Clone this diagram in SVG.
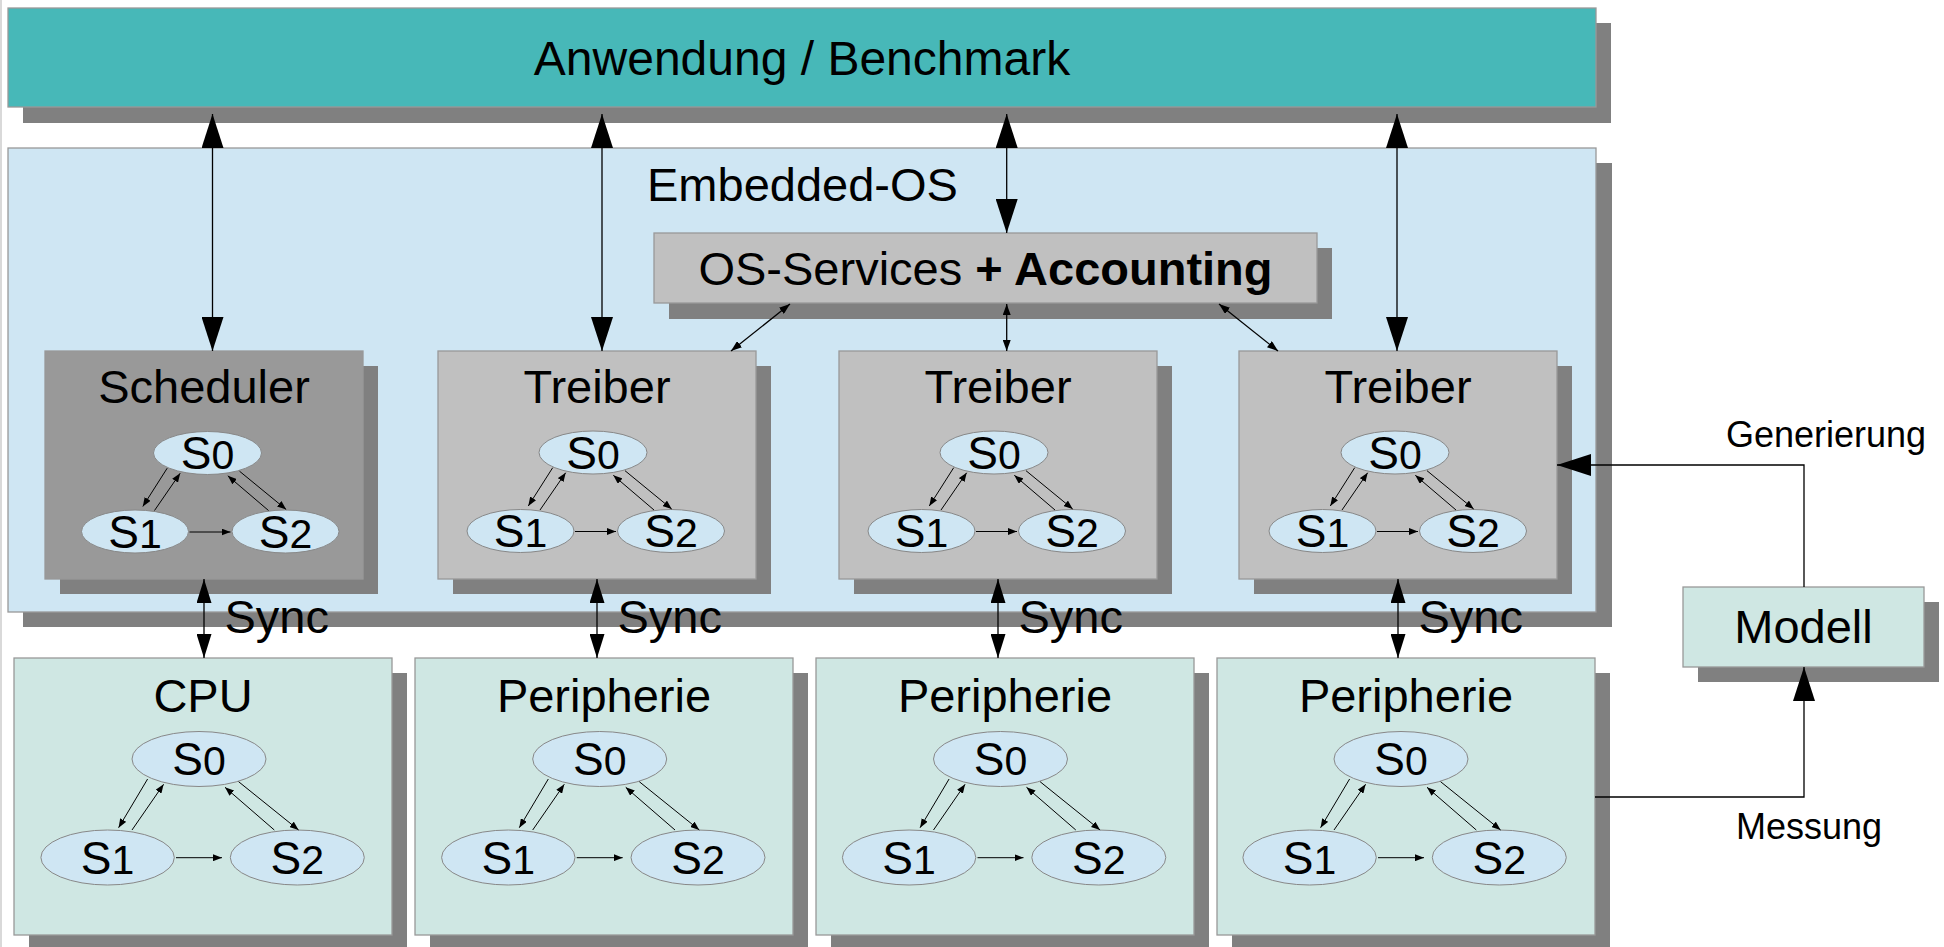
<svg xmlns="http://www.w3.org/2000/svg" width="1944" height="947" viewBox="0 0 1944 947">
<style>
text{font-family:"Liberation Sans",Arial,sans-serif;fill:#000}
.t47{font-size:47px;text-anchor:middle}
.lbl{font-size:36px}
.sh{fill:#808080}
.box{stroke:#999;stroke-width:1.3}
.teal{fill:#47b8b8}
.os{fill:#cfe6f3}
.sched{fill:#999999}
.drv{fill:#c0c0c0}
.hw{fill:#cfe7e3}
.st{fill:#cfe6f3;stroke:#888;stroke-width:1}
.s{font-size:46px;text-anchor:middle}
.d{font-size:41px}
.c{stroke:#000;stroke-width:1.3;fill:none}
.big{marker-start:url(#hb);marker-end:url(#hb)}
.sy{marker-start:url(#hs);marker-end:url(#hs)}
.osc{marker-start:url(#ho);marker-end:url(#ho)}
.m{stroke:#000;stroke-width:1;fill:none;marker-end:url(#hm)}
</style>
<defs>
<marker id="hb" markerUnits="userSpaceOnUse" markerWidth="34" markerHeight="22" refX="34" refY="11" orient="auto-start-reverse"><path d="M0,0 L34,11 L0,22 Z" fill="#000"/></marker>
<marker id="hs" markerUnits="userSpaceOnUse" markerWidth="24" markerHeight="15" refX="24" refY="7.5" orient="auto-start-reverse"><path d="M0,0 L24,7.5 L0,15 Z" fill="#000"/></marker>
<marker id="ho" markerUnits="userSpaceOnUse" markerWidth="11" markerHeight="8" refX="11" refY="4" orient="auto-start-reverse"><path d="M0,0 L11,4 L0,8 Z" fill="#000"/></marker>
<marker id="hm" markerUnits="userSpaceOnUse" markerWidth="9" markerHeight="7" refX="9" refY="3.5" orient="auto"><path d="M0,0 L9,3.5 L0,7 Z" fill="#000"/></marker>
</defs>
<rect x="0" y="0" width="1944" height="947" fill="#fff"/>
<rect x="0" y="0" width="2" height="947" fill="#d9d9d9"/>

<g id="anwendung">
<rect class="sh" x="23" y="23" width="1588" height="100"/>
<rect class="teal box" x="8" y="8" width="1588" height="99"/>
<text class="t47" x="802" y="75" style="font-size:48px">Anwendung / Benchmark</text>
</g>

<g id="embedded-os">
<rect class="sh" x="23" y="163" width="1589" height="464"/>
<rect class="os box" x="8" y="148" width="1588" height="464"/>
<text x="647" y="201" style="font-size:47px">Embedded-OS</text>
</g>

<g id="os-services">
<rect class="sh" x="669" y="248" width="663" height="71"/>
<rect class="drv box" x="654" y="233" width="663" height="70"/>
<text class="t47" x="985.5" y="285">OS-Services <tspan font-weight="bold">+ Accounting</tspan></text>
</g>

<g id="scheduler">
<rect class="sh" x="60" y="366" width="318" height="228"/>
<rect class="sched box" x="45" y="351" width="318" height="228"/>
<text class="t47" x="204" y="403">Scheduler</text>
<g transform="translate(207.5,453)">
<ellipse class="st" cx="0" cy="0" rx="54" ry="21.5"/>
<ellipse class="st" cx="-72.5" cy="78.5" rx="53.5" ry="21.5"/>
<ellipse class="st" cx="78" cy="78.5" rx="53.5" ry="21.5"/>
<text class="s" x="0" y="16">S<tspan class="d">0</tspan></text>
<text class="s" x="-72.5" y="94.5">S<tspan class="d">1</tspan></text>
<text class="s" x="78" y="94.5">S<tspan class="d">2</tspan></text>
<path class="m" d="M-40.3,15.2 L-64.7,53.5"/>
<path class="m" d="M-53,57.5 L-27.3,20.2"/>
<path class="m" d="M32,18.2 L78.7,56.5"/>
<path class="m" d="M61,57.5 L20.3,22.8"/>
<path class="m" d="M-18,79 L23,79"/>
</g>
</g>

<g id="treiber1">
<rect class="sh" x="453" y="366" width="318" height="228"/>
<rect class="drv box" x="438" y="351" width="318" height="228"/>
<text class="t47" x="597" y="403">Treiber</text>
<g transform="translate(593,452.5)">
<ellipse class="st" cx="0" cy="0" rx="54" ry="21.5"/>
<ellipse class="st" cx="-72.5" cy="78.5" rx="53.5" ry="21.5"/>
<ellipse class="st" cx="78" cy="78.5" rx="53.5" ry="21.5"/>
<text class="s" x="0" y="16">S<tspan class="d">0</tspan></text>
<text class="s" x="-72.5" y="94.5">S<tspan class="d">1</tspan></text>
<text class="s" x="78" y="94.5">S<tspan class="d">2</tspan></text>
<path class="m" d="M-40.3,15.2 L-64.7,53.5"/>
<path class="m" d="M-53,57.5 L-27.3,20.2"/>
<path class="m" d="M32,18.2 L78.7,56.5"/>
<path class="m" d="M61,57.5 L20.3,22.8"/>
<path class="m" d="M-18,79 L23,79"/>
</g>
</g>

<g id="treiber2">
<rect class="sh" x="854" y="366" width="318" height="228"/>
<rect class="drv box" x="839" y="351" width="318" height="228"/>
<text class="t47" x="998" y="403">Treiber</text>
<g transform="translate(994,452.5)">
<ellipse class="st" cx="0" cy="0" rx="54" ry="21.5"/>
<ellipse class="st" cx="-72.5" cy="78.5" rx="53.5" ry="21.5"/>
<ellipse class="st" cx="78" cy="78.5" rx="53.5" ry="21.5"/>
<text class="s" x="0" y="16">S<tspan class="d">0</tspan></text>
<text class="s" x="-72.5" y="94.5">S<tspan class="d">1</tspan></text>
<text class="s" x="78" y="94.5">S<tspan class="d">2</tspan></text>
<path class="m" d="M-40.3,15.2 L-64.7,53.5"/>
<path class="m" d="M-53,57.5 L-27.3,20.2"/>
<path class="m" d="M32,18.2 L78.7,56.5"/>
<path class="m" d="M61,57.5 L20.3,22.8"/>
<path class="m" d="M-18,79 L23,79"/>
</g>
</g>

<g id="treiber3">
<rect class="sh" x="1254" y="366" width="318" height="228"/>
<rect class="drv box" x="1239" y="351" width="318" height="228"/>
<text class="t47" x="1398" y="403">Treiber</text>
<g transform="translate(1395,452.5)">
<ellipse class="st" cx="0" cy="0" rx="54" ry="21.5"/>
<ellipse class="st" cx="-72.5" cy="78.5" rx="53.5" ry="21.5"/>
<ellipse class="st" cx="78" cy="78.5" rx="53.5" ry="21.5"/>
<text class="s" x="0" y="16">S<tspan class="d">0</tspan></text>
<text class="s" x="-72.5" y="94.5">S<tspan class="d">1</tspan></text>
<text class="s" x="78" y="94.5">S<tspan class="d">2</tspan></text>
<path class="m" d="M-40.3,15.2 L-64.7,53.5"/>
<path class="m" d="M-53,57.5 L-27.3,20.2"/>
<path class="m" d="M32,18.2 L78.7,56.5"/>
<path class="m" d="M61,57.5 L20.3,22.8"/>
<path class="m" d="M-18,79 L23,79"/>
</g>
</g>

<g id="cpu">
<rect class="sh" x="29" y="673" width="378" height="277"/>
<rect class="hw box" x="14" y="658" width="378" height="277"/>
<text class="t47" x="203" y="712">CPU</text>
<g transform="translate(199,759)">
<ellipse class="st" cx="0" cy="0" rx="67" ry="27.5"/>
<ellipse class="st" cx="-91.4" cy="98.5" rx="66.7" ry="27.5"/>
<ellipse class="st" cx="98.3" cy="98.5" rx="67" ry="27.5"/>
<text class="s" x="0" y="16">S<tspan class="d">0</tspan></text>
<text class="s" x="-91.4" y="114.5">S<tspan class="d">1</tspan></text>
<text class="s" x="98.3" y="114.5">S<tspan class="d">2</tspan></text>
<path class="m" d="M-51.4,20 L-80.4,68.7"/>
<path class="m" d="M-67,71 L-35.4,25.3"/>
<path class="m" d="M39.6,22.7 L99.6,71"/>
<path class="m" d="M75.3,71 L26,28.3"/>
<path class="m" d="M-23,98.7 L23,98.7"/>
</g>
</g>

<g id="peripherie1">
<rect class="sh" x="430" y="673" width="378" height="277"/>
<rect class="hw box" x="415" y="658" width="378" height="277"/>
<text class="t47" x="604" y="712">Peripherie</text>
<g transform="translate(599.7,759)">
<ellipse class="st" cx="0" cy="0" rx="67" ry="27.5"/>
<ellipse class="st" cx="-91.4" cy="98.5" rx="66.7" ry="27.5"/>
<ellipse class="st" cx="98.3" cy="98.5" rx="67" ry="27.5"/>
<text class="s" x="0" y="16">S<tspan class="d">0</tspan></text>
<text class="s" x="-91.4" y="114.5">S<tspan class="d">1</tspan></text>
<text class="s" x="98.3" y="114.5">S<tspan class="d">2</tspan></text>
<path class="m" d="M-51.4,20 L-80.4,68.7"/>
<path class="m" d="M-67,71 L-35.4,25.3"/>
<path class="m" d="M39.6,22.7 L99.6,71"/>
<path class="m" d="M75.3,71 L26,28.3"/>
<path class="m" d="M-23,98.7 L23,98.7"/>
</g>
</g>

<g id="peripherie2">
<rect class="sh" x="831" y="673" width="378" height="277"/>
<rect class="hw box" x="816" y="658" width="378" height="277"/>
<text class="t47" x="1005" y="712">Peripherie</text>
<g transform="translate(1000.5,759)">
<ellipse class="st" cx="0" cy="0" rx="67" ry="27.5"/>
<ellipse class="st" cx="-91.4" cy="98.5" rx="66.7" ry="27.5"/>
<ellipse class="st" cx="98.3" cy="98.5" rx="67" ry="27.5"/>
<text class="s" x="0" y="16">S<tspan class="d">0</tspan></text>
<text class="s" x="-91.4" y="114.5">S<tspan class="d">1</tspan></text>
<text class="s" x="98.3" y="114.5">S<tspan class="d">2</tspan></text>
<path class="m" d="M-51.4,20 L-80.4,68.7"/>
<path class="m" d="M-67,71 L-35.4,25.3"/>
<path class="m" d="M39.6,22.7 L99.6,71"/>
<path class="m" d="M75.3,71 L26,28.3"/>
<path class="m" d="M-23,98.7 L23,98.7"/>
</g>
</g>

<g id="peripherie3">
<rect class="sh" x="1232" y="673" width="378" height="277"/>
<rect class="hw box" x="1217" y="658" width="378" height="277"/>
<text class="t47" x="1406" y="712">Peripherie</text>
<g transform="translate(1401,759)">
<ellipse class="st" cx="0" cy="0" rx="67" ry="27.5"/>
<ellipse class="st" cx="-91.4" cy="98.5" rx="66.7" ry="27.5"/>
<ellipse class="st" cx="98.3" cy="98.5" rx="67" ry="27.5"/>
<text class="s" x="0" y="16">S<tspan class="d">0</tspan></text>
<text class="s" x="-91.4" y="114.5">S<tspan class="d">1</tspan></text>
<text class="s" x="98.3" y="114.5">S<tspan class="d">2</tspan></text>
<path class="m" d="M-51.4,20 L-80.4,68.7"/>
<path class="m" d="M-67,71 L-35.4,25.3"/>
<path class="m" d="M39.6,22.7 L99.6,71"/>
<path class="m" d="M75.3,71 L26,28.3"/>
<path class="m" d="M-23,98.7 L23,98.7"/>
</g>
</g>

<g id="modell">
<rect class="sh" x="1698" y="602" width="241" height="80"/>
<rect class="hw box" x="1683" y="587" width="241" height="80"/>
<text class="t47" x="1803.5" y="643">Modell</text>
</g>

<g id="connectors">
<path class="c big" d="M212.5,114 L212.5,351"/>
<path class="c big" d="M602,114 L602,351"/>
<path class="c big" d="M1006.7,114 L1006.7,233"/>
<path class="c big" d="M1397,114 L1397,351"/>
<path class="c osc" d="M790,304 L731,351"/>
<path class="c osc" d="M1006.7,304 L1006.7,351"/>
<path class="c osc" d="M1219,304 L1278,351"/>
<path class="c sy" d="M204,579 L204,658"/>
<path class="c sy" d="M597,579 L597,658"/>
<path class="c sy" d="M998,579 L998,658"/>
<path class="c sy" d="M1398,579 L1398,658"/>
<path class="c" style="marker-end:url(#hb)" d="M1804,587 L1804,465 L1557,465"/>
<path class="c" style="marker-end:url(#hb)" d="M1595,797 L1804,797 L1804,667"/>
<text x="224.5" y="633" style="font-size:47px">Sync</text>
<text x="617.5" y="633" style="font-size:47px">Sync</text>
<text x="1018.5" y="633" style="font-size:47px">Sync</text>
<text x="1418.5" y="633" style="font-size:47px">Sync</text>
<text class="lbl" x="1726" y="447">Generierung</text>
<text class="lbl" x="1736" y="839">Messung</text>
</g>
</svg>
